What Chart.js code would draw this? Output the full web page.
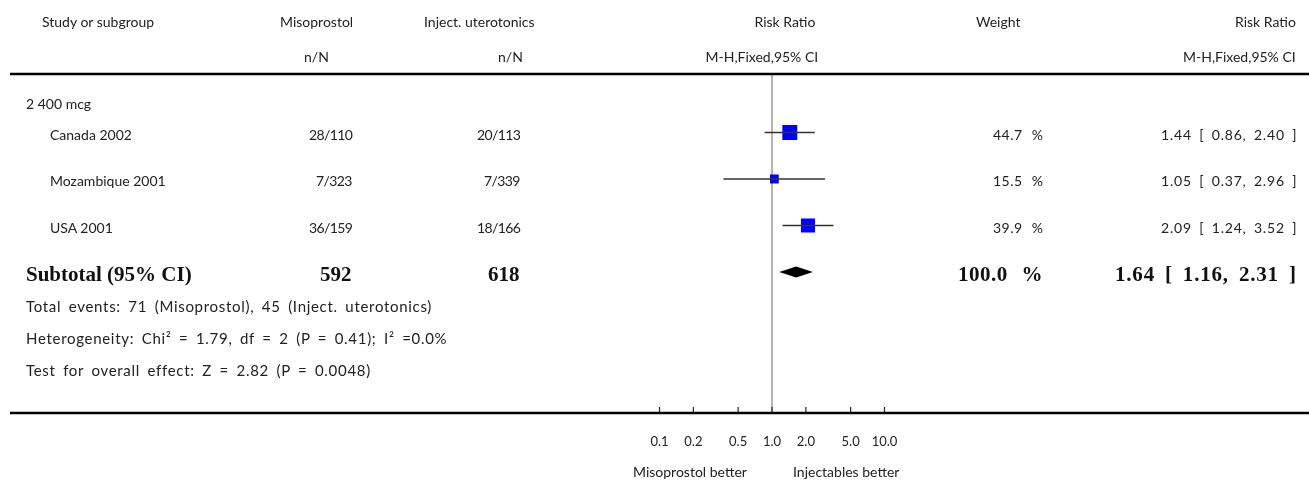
<!DOCTYPE html>
<html>
<head>
<meta charset="utf-8">
<script src="https://cdn.jsdelivr.net/npm/chart.js@4.4.0/dist/chart.umd.min.js"></script>
<style>
  html, body { margin: 0; padding: 0; background: #fff; }
  #wrap { position: relative; width: 1309px; height: 484px; overflow: hidden; }
  #forest { position: absolute; left: 0; top: 0; }
  .t { position: absolute; font-family: Lato, 'Open Sans', sans-serif; font-size: 14px; color: #222; white-space: nowrap; line-height: 18px; }
  .b { font-family: 'Liberation Serif', serif; font-weight: bold; font-size: 21px; line-height: 24px; color: #111; }
  .nn { letter-spacing: -0.6px; }
  .pct { letter-spacing: 0.5px; word-spacing: 5px; }
  .ci { letter-spacing: 0.8px; word-spacing: 3px; }
  .bpct { letter-spacing: 0.5px; word-spacing: 8px; }
  .bci { letter-spacing: 0.8px; word-spacing: 4px; }
  .nota { font-size: 15px; letter-spacing: 0.7px; word-spacing: 3px; }
</style>
</head>
<body>
<div id="wrap"><canvas id="forest" width="1309" height="484"></canvas></div>
<script>
// Datos del forest plot
const subgroup = '2 400 mcg';
const studies = ['Canada 2002', 'Mozambique 2001', 'USA 2001'];
const misoEvents = [28, 7, 36];
const misoTotals = [110, 323, 159];
const injEvents = [20, 7, 18];
const injTotals = [113, 339, 166];
const weights = [44.7, 15.5, 39.9];
const totalWeight = 100.0;
const riskRatios = [1.44, 1.05, 2.09];
const ciLower = [0.86, 0.37, 1.24];
const ciUpper = [2.40, 2.96, 3.52];
const pooledRR = 1.64;
const pooledLower = 1.16;
const pooledUpper = 2.31;
const heterogeneity = { chi2: 1.79, df: 2, p: 0.41, i2: 0.0 };
const overallEffect = { z: 2.82, p: 0.0048 };
const tickValues = [0.1, 0.2, 0.5, 1, 2, 5, 10];
const tickLabels = ['0.1', '0.2', '0.5', '1.0', '2.0', '5.0', '10.0'];

const sum = arr => arr.reduce((a, b) => a + b, 0);
const subtotalRow = studies.length + 1;

/* ===== Plugin: línea de no efecto, diamante, líneas de la tabla ===== */
const forestPlugin = {
  id: 'forestExtras',
  beforeDatasetsDraw(chart) {
    const { ctx, scales: { x }, chartArea } = chart;
    const x1 = x.getPixelForValue(1);
    ctx.save();
    ctx.strokeStyle = '#9a9a9a';
    ctx.lineWidth = 1.5;
    ctx.beginPath();
    ctx.moveTo(x1, chartArea.top);
    ctx.lineTo(x1, chartArea.bottom);
    ctx.stroke();
    ctx.restore();
  },
  afterDatasetsDraw(chart) {
    const { ctx, scales: { x, y }, chartArea } = chart;
    ctx.save();
    // diamante del subtotal
    const yc = y.getPixelForValue(subtotalRow);
    const xl = x.getPixelForValue(pooledLower);
    const xm = x.getPixelForValue(pooledRR);
    const xr = x.getPixelForValue(pooledUpper);
    ctx.fillStyle = '#000';
    ctx.beginPath();
    ctx.moveTo(xl, yc);
    ctx.lineTo(xm, yc - 5.5);
    ctx.lineTo(xr, yc);
    ctx.lineTo(xm, yc + 5.5);
    ctx.closePath();
    ctx.fill();

    // líneas horizontales de la tabla
    ctx.strokeStyle = '#000';
    ctx.lineWidth = 2.5;
    [chartArea.top - 1, chartArea.bottom].forEach(ly => {
      ctx.beginPath();
      ctx.moveTo(10, ly);
      ctx.lineTo(chart.width, ly);
      ctx.stroke();
    });

    // marcas del eje
    ctx.lineWidth = 1.2;
    ctx.strokeStyle = '#222';
    tickValues.forEach(v => {
      const px = x.getPixelForValue(v);
      ctx.beginPath();
      ctx.moveTo(px, chartArea.bottom);
      ctx.lineTo(px, chartArea.bottom - 6);
      ctx.stroke();
    });
    ctx.restore();
  }
};

/* ===== Datasets ===== */
const ciDatasets = studies.map((s, i) => ({
  label: s + ' IC',
  data: [{ x: ciLower[i], y: i + 1 }, { x: ciUpper[i], y: i + 1 }],
  showLine: true,
  borderColor: '#333',
  borderWidth: 1.5,
  pointRadius: 0
}));

const squares = {
  label: 'RR',
  data: riskRatios.map((rr, i) => ({ x: rr, y: i + 1 })),
  pointStyle: 'rect',
  pointRadius: weights.map(w => 1.58 * Math.sqrt(w)),
  backgroundColor: '#0000ff',
  borderWidth: 0
};

const centerMarks = {
  label: 'RR centro',
  data: riskRatios.map((rr, i) => ({ x: rr, y: i + 1 })),
  pointStyle: 'line',
  rotation: 90,
  pointRadius: 3.5,
  borderColor: '#111',
  borderWidth: 1.2
};

const chart = new Chart(document.getElementById('forest'), {
  type: 'scatter',
  data: { datasets: [...ciDatasets, squares, centerMarks] },
  options: {
    responsive: false,
    animation: false,
    events: [],
    layout: { padding: { left: 659.5, right: 424.5, top: 75, bottom: 0 } },
    plugins: { legend: { display: false }, tooltip: { enabled: false } },
    scales: {
      x: {
        type: 'logarithmic',
        min: 0.1,
        max: 10,
        grid: { display: false, drawTicks: false },
        border: { display: false },
        afterFit: s => { s.height = 71; },
        afterBuildTicks: s => { s.ticks = tickValues.map(v => ({ value: v })); },
        ticks: {
          autoSkip: false,
          maxRotation: 0,
          padding: 21,
          color: '#222',
          font: { family: 'Lato', size: 13 },
          callback: (v, i) => tickLabels[i]
        }
      },
      y: { type: 'linear', reverse: true, min: -0.237, max: 7.032, display: false }
    }
  },
  plugins: [forestPlugin]
});

/* ===== Texto de la tabla ===== */
const wrap = document.getElementById('wrap');

function texto(str, x, y, align, cls) {
  const el = document.createElement('div');
  el.className = 't' + (cls ? ' ' + cls : '');
  el.textContent = str;
  wrap.appendChild(el);
  const w = el.offsetWidth, h = el.offsetHeight;
  let left = x;
  if (align === 'right') left = x - w;
  else if (align === 'center') left = x - w / 2;
  el.style.left = left + 'px';
  el.style.top = (y - h / 2) + 'px';
}

// cabecera
texto('Study or subgroup', 42, 22, 'left');
texto('Misoprostol', 353, 22, 'right');
texto('n/N', 329, 57, 'right');
texto('Inject. uterotonics', 535, 22, 'right');
texto('n/N', 523, 57, 'right');
texto('Risk Ratio', 785, 22, 'center');
texto('M-H,Fixed,95% CI', 762, 57, 'center');
texto('Weight', 998, 22, 'center');
texto('Risk Ratio', 1296, 22, 'right');
texto('M-H,Fixed,95% CI', 1296, 57, 'right');

// filas de estudios
const yScale = chart.scales.y;
texto(subgroup, 26, 104, 'left');
studies.forEach((s, i) => {
  const ry = yScale.getPixelForValue(i + 1) + 2;
  texto(s, 50, ry, 'left');
  texto(`${misoEvents[i]}/${misoTotals[i]}`, 352, ry, 'right', 'nn');
  texto(`${injEvents[i]}/${injTotals[i]}`, 520, ry, 'right', 'nn');
  texto(`${weights[i].toFixed(1)} %`, 1043, ry, 'right', 'pct');
  texto(`${riskRatios[i].toFixed(2)} [ ${ciLower[i].toFixed(2)}, ${ciUpper[i].toFixed(2)} ]`, 1297, ry, 'right', 'ci');
});

// subtotal
const sy = yScale.getPixelForValue(subtotalRow) + 2;
texto('Subtotal (95% CI)', 26, sy, 'left', 'b');
texto(String(sum(misoTotals)), 352, sy, 'right', 'b');
texto(String(sum(injTotals)), 520, sy, 'right', 'b');
texto(`${totalWeight.toFixed(1)} %`, 1043, sy, 'right', 'b bpct');
texto(`${pooledRR.toFixed(2)} [ ${pooledLower.toFixed(2)}, ${pooledUpper.toFixed(2)} ]`, 1297, sy, 'right', 'b bci');

// notas
texto(`Total events: ${sum(misoEvents)} (Misoprostol), ${sum(injEvents)} (Inject. uterotonics)`, 26, 306, 'left', 'nota');
texto(`Heterogeneity: Chi² = ${heterogeneity.chi2.toFixed(2)}, df = ${heterogeneity.df} (P = ${heterogeneity.p.toFixed(2)}); I² =${heterogeneity.i2.toFixed(1)}%`, 26, 338, 'left', 'nota');
texto(`Test for overall effect: Z = ${overallEffect.z.toFixed(2)} (P = ${overallEffect.p})`, 26, 370, 'left', 'nota');

// etiquetas del eje
texto('Misoprostol better', 690, 472, 'center');
texto('Injectables better', 846, 472, 'center');
</script>
</body>
</html>
